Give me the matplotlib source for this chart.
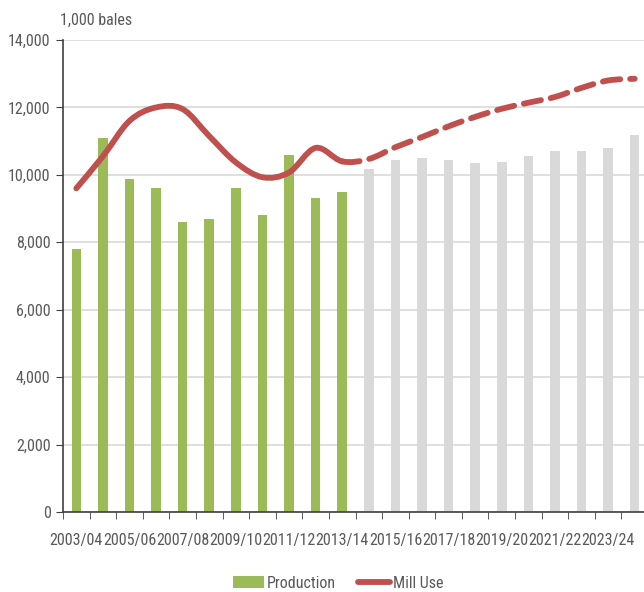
import matplotlib
matplotlib.use("Agg")
import matplotlib.pyplot as plt
from matplotlib.path import Path
from matplotlib.patches import PathPatch, Patch
from matplotlib.lines import Line2D
import numpy as np

plt.rcParams['font.family'] = ['Roboto Condensed', 'PT Sans Narrow', 'Archivo Narrow', 'Carlito',
                               'Liberation Sans', 'DejaVu Sans']

seasons = [f"{y}/{str(y+1)[-2:]}" for y in range(2003, 2025)]
production = [7800, 11100, 9870, 9600, 8600, 8700, 9600, 8800, 10600, 9300, 9500]
projected_production = [10180, 10440, 10500, 10440, 10340, 10390, 10550, 10700, 10700, 10800, 11180]
mill_use = [9600, 10550, 11600, 12000, 11950, 11150, 10370, 9930, 10070, 10800, 10400,
            10470, 10820, 11120, 11440, 11720, 11960, 12140, 12310, 12580, 12800, 12850]
n_actual = len(production)
yticks = [0, 2000, 4000, 6000, 8000, 10000, 12000, 14000]

RED = '#C0504D'
GREEN = '#9BBB59'
GREY = '#D9D9D9'
TXT = '#595959'
FS = 11.5

fig = plt.figure(figsize=(6.44, 5.92), dpi=100)
W, H = 644, 592
ax = fig.add_axes([63 / W, (H - 512) / H, (648 - 63) / W, (512 - 40) / H])

x = np.arange(len(seasons))
ax.bar(x[:n_actual], production, width=0.36, color=GREEN, zorder=2)
ax.bar(x[n_actual:], projected_production, width=0.36, color=GREY, zorder=2)


def smooth_path(xs, ys):
    xs = np.asarray(xs, float)
    ys = np.asarray(ys, float)
    n = len(xs)
    verts = [(xs[0], ys[0])]
    codes = [Path.MOVETO]
    for i in range(n - 1):
        p0 = (xs[i - 1], ys[i - 1]) if i > 0 else (xs[i], ys[i])
        p1 = (xs[i], ys[i])
        p2 = (xs[i + 1], ys[i + 1])
        p3 = (xs[i + 2], ys[i + 2]) if i + 2 < n else (xs[i + 1], ys[i + 1])
        t = 1 / 6
        c1 = (p1[0] + (p2[0] - p0[0]) * t, p1[1] + (p2[1] - p0[1]) * t)
        c2 = (p2[0] - (p3[0] - p1[0]) * t, p2[1] - (p3[1] - p1[1]) * t)
        verts += [c1, c2, p2]
        codes += [Path.CURVE4] * 3
    return Path(verts, codes)


full = smooth_path(x, mill_use)
verts = full.vertices
codes = full.codes
split = 1 + 3 * (n_actual - 1)
solid = Path(verts[:split], codes[:split])
dverts = verts[split - 1:]
dcodes = codes[split - 1:].copy()
dcodes[0] = Path.MOVETO
dashed = Path(dverts, dcodes)

LW = 4.2
ax.add_patch(PathPatch(solid, facecolor='none', edgecolor=RED, lw=LW,
                       capstyle='round', joinstyle='round', zorder=3))
ax.add_patch(PathPatch(dashed, facecolor='none', edgecolor=RED, lw=LW,
                       linestyle=(0, (3.0, 1.7)), capstyle='round', zorder=3))

ax.set_xlim(-0.5, len(seasons) - 0.5)
ax.set_ylim(0, 14000)
ax.set_yticks(yticks)
ax.set_yticklabels([f"{v:,}" for v in yticks])
ax.set_xticks(x[::2])
ax.set_xticklabels(seasons[::2])
ax.set_xticks(np.arange(-0.5, len(seasons) + 0.5, 1), minor=True)
ax.tick_params(axis='x', which='major', length=0, pad=15, labelsize=FS, labelcolor=TXT)
ax.tick_params(axis='x', which='minor', length=5, color='#404040', direction='out')
ax.tick_params(axis='y', length=5, color='#404040', pad=4, labelsize=FS, labelcolor=TXT)
ax.grid(axis='y', color=GREY, lw=1.2, zorder=0)
ax.set_axisbelow(True)
for s in ['top', 'right']:
    ax.spines[s].set_visible(False)
for s in ['left', 'bottom']:
    ax.spines[s].set_color('#404040')
    ax.spines[s].set_linewidth(1.2)

fig.text(60 / W, 1 - 20 / H, '1,000 bales', fontsize=FS, color=TXT, va='center', ha='left')

handles = [Patch(facecolor=GREEN, edgecolor='none'),
           Line2D([0], [0], color=RED, lw=LW, solid_capstyle='round')]
fig.legend(handles, ['Production', 'Mill Use'], loc='center', bbox_to_anchor=(338 / W, 1 - 583 / H),
           ncol=2, frameon=False, fontsize=FS, labelcolor=TXT, handlelength=1.95,
           handletextpad=0.2, columnspacing=1.4)

fig.savefig('out.png', dpi=100)
